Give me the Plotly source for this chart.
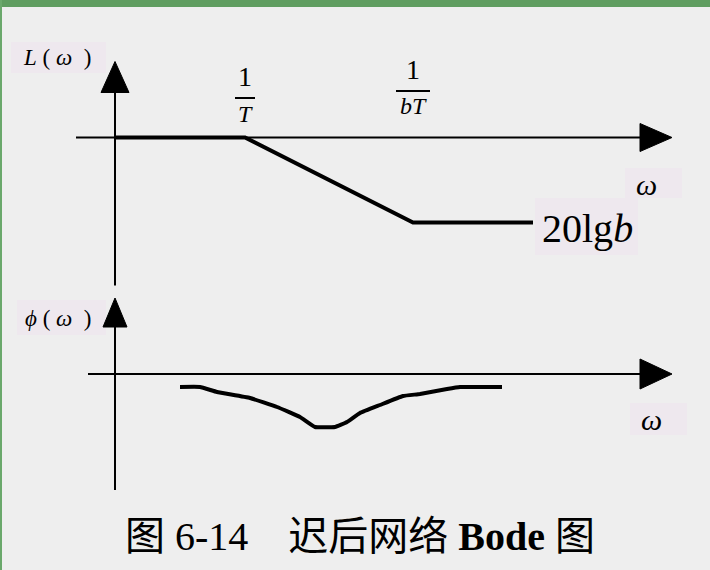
import plotly.graph_objects as go

# ---- data (schematic Bode plot of a lag network) ----
# frequency positions (arbitrary log-scale units, origin at vertical axis)
w_mag = [0, 130, 298, 418]          # 0, 1/T, 1/bT, end
L_mag = [0, 0, -85, -85]             # L(w): 0 dB, then down to 20lgb
w_phase = [65, 85, 102, 135, 162, 185, 200, 220, 232, 245, 265, 288, 305, 332, 345, 387]
phi_phase = [-13, -13, -18, -24, -33, -43, -53, -53, -48, -39, -31, -22, -20, -15, -13, -13]
break_labels = ["1/T", "1/bT"]
caption = "图 6-14    迟后网络 <b>Bode</b> 图"

W, H = 710, 570
BG = "#eeeeee"
BOX = "#eee8ee"
SERIF = "Liberation Serif, Times New Roman, serif"
CJK = "Liberation Serif, Noto Sans CJK SC, serif"

fig = go.Figure()

def px(x):
    return x / W

def py(y):
    return 1 - y / H

# curves
fig.add_trace(go.Scatter(x=w_mag, y=L_mag, mode="lines", xaxis="x", yaxis="y",
                         line=dict(color="black", width=4), hoverinfo="skip", showlegend=False))
fig.add_trace(go.Scatter(x=w_phase, y=phi_phase, mode="lines", xaxis="x", yaxis="y2",
                         line=dict(color="black", width=4, shape="spline", smoothing=0.3),
                         hoverinfo="skip", showlegend=False))

shapes = []
# green frame
shapes.append(dict(type="rect", xref="paper", yref="paper", x0=0, x1=1, y0=py(7), y1=1,
                   fillcolor="#5f9d60", line_width=0, layer="below"))
shapes.append(dict(type="rect", xref="paper", yref="paper", x0=0, x1=px(2), y0=0, y1=1,
                   fillcolor="#6aa86b", line_width=0, layer="below"))

# label boxes
for (x0, y0, x1, y1) in [(11, 42, 106, 73), (17, 300, 106, 335), (625, 168, 682, 198),
                         (535, 198, 638, 255), (630, 403, 687, 435)]:
    shapes.append(dict(type="rect", xref="paper", yref="paper", x0=px(x0), x1=px(x1),
                       y0=py(y1), y1=py(y0), fillcolor=BOX, line_width=0, layer="below"))

# axes: top panel (yref y), bottom panel (yref y2)
def axes(yref, x_start, x_end, tip, y_bot, y_top, ytip, half_h, half_w):
    s = []
    s.append(dict(type="line", xref="x", yref=yref, x0=x_start, x1=x_end, y0=0, y1=0,
                  line=dict(color="black", width=2)))
    s.append(dict(type="path", xref="x", yref=yref,
                  path=f"M {x_end},{half_h} L {tip},0 L {x_end},{-half_h} Z",
                  fillcolor="black", line=dict(color="black", width=1)))
    s.append(dict(type="line", xref="x", yref=yref, x0=0, x1=0, y0=y_bot, y1=y_top,
                  line=dict(color="black", width=2)))
    s.append(dict(type="path", xref="x", yref=yref,
                  path=f"M {-half_w},{y_top} L 0,{ytip} L {half_w},{y_top} Z",
                  fillcolor="black", line=dict(color="black", width=1)))
    return s

shapes += axes("y", -39, 525, 557, -148, 45, 76, 14, 14)
shapes += axes("y2", -27, 525, 557, -116, 47, 76, 15, 12)

# fraction bars for break frequencies
shapes.append(dict(type="line", xref="x", yref="paper", x0=w_mag[1] - 10, x1=w_mag[1] + 10,
                   y0=py(98), y1=py(98), line=dict(color="black", width=2)))
shapes.append(dict(type="line", xref="x", yref="paper", x0=w_mag[2] - 17, x1=w_mag[2] + 17,
                   y0=py(91), y1=py(91), line=dict(color="black", width=2)))

ann = []
def text(x, y, t, size, family=SERIF, xref="paper"):
    ann.append(dict(x=px(x) if xref == "paper" else x, y=py(y), xref=xref, yref="paper",
                    text=t, showarrow=False, xanchor="center", yanchor="middle",
                    font=dict(family=family, size=size, color="black")))

text(57, 58, "<i>L</i> ( <i>ω</i>  )", 23)
text(58, 318, "<i>ϕ</i> ( <i>ω</i>  )", 23)
text(646, 184, "<i>ω</i>", 30)
text(651, 419, "<i>ω</i>", 30)
text(587, 228, "20lg<i>b</i>", 40)
# 1/T and 1/bT
text(w_mag[1], 77, "1", 28, xref="x")
text(w_mag[1], 114, "<i>T</i>", 24, xref="x")
text(w_mag[2], 69, "1", 28, xref="x")
text(w_mag[2], 106, "<i>bT</i>", 24, xref="x")
text(360, 536, caption, 40, family=CJK)

fig.update_layout(
    width=W, height=H, margin=dict(l=0, r=0, t=0, b=0),
    paper_bgcolor=BG, plot_bgcolor=BG, showlegend=False,
    xaxis=dict(range=[-115, 595], visible=False, fixedrange=True),
    yaxis=dict(range=[-432.5, 137.5], visible=False, fixedrange=True, domain=[0, 1]),
    yaxis2=dict(range=[-196, 374], visible=False, fixedrange=True, overlaying="y"),
    shapes=shapes, annotations=ann,
)

fig.write_html("out.html", config={"displayModeBar": False},
               post_script="document.body.style.margin='0';document.body.style.overflow='hidden';")
